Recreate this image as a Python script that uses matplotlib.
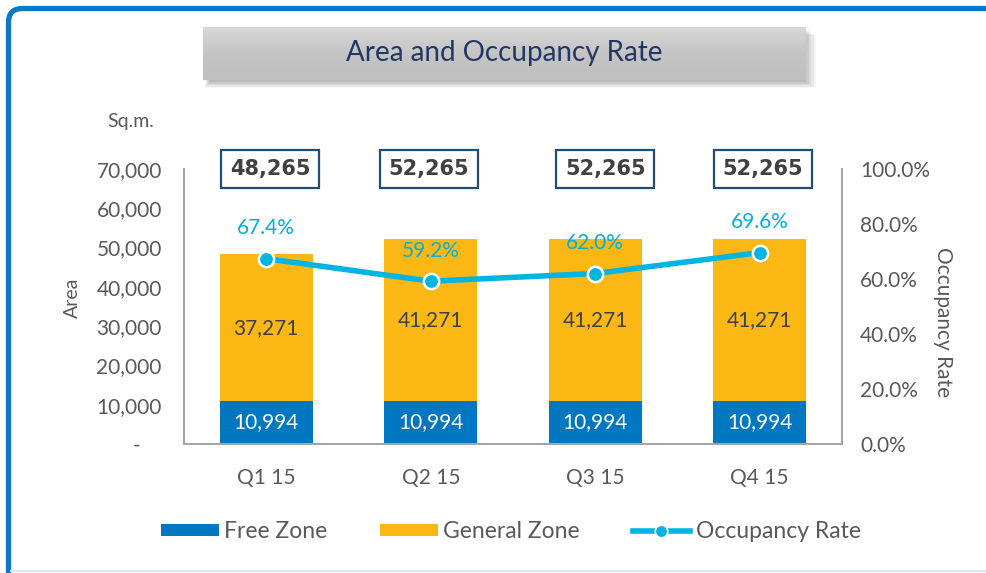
import matplotlib
matplotlib.use("Agg")
import matplotlib.pyplot as plt
import numpy as np
from matplotlib.patches import Patch, Rectangle, PathPatch
from matplotlib.lines import Line2D
from matplotlib.path import Path
from matplotlib.ticker import FuncFormatter

plt.rcParams['font.family'] = ['Lato', 'DejaVu Sans']

# Data
quarters = ["Q1 15", "Q2 15", "Q3 15", "Q4 15"]
free_zone = [10994, 10994, 10994, 10994]
general_zone = [37271, 41271, 41271, 41271]
totals = [48265, 52265, 52265, 52265]
occupancy = [67.4, 59.2, 62.0, 69.6]

FREE_C = "#0078c1"
GEN_C = "#fbb714"
LINE_C = "#00b5e2"
LABEL_C = "#00b0dc"
TEXT_C = "#595959"
NAVY = "#1f3864"

W, H = 987, 573
fig = plt.figure(figsize=(W / 100, H / 100), dpi=100)
fig.patch.set_facecolor("white")

def fx(px):
    return px / W

def fy(py):
    return 1 - py / H

# Frame around the panel: blue top/left edge with a rounded corner, pale bottom line
r = 14
verts = [(8.5, H), (8.5, 8.5 + r), (8.5, 8.5), (8.5 + r, 8.5), (W, 8.5)]
codes = [Path.MOVETO, Path.LINETO, Path.CURVE3, Path.CURVE3, Path.LINETO]
verts_f = [(fx(x), fy(y)) for x, y in verts]
fig.add_artist(PathPatch(Path(verts_f, codes), fill=False, edgecolor="#0a78c4",
                         linewidth=3.8, transform=fig.transFigure, capstyle="butt"))
fig.add_artist(Line2D([fx(11), 1], [fy(571), fy(571)], color="#d4e9f6",
                      linewidth=1.5, transform=fig.transFigure))

# Title banner with soft drop shadow
bx0, by0, bx1, by1 = 203, 27, 806, 80
for i, a in enumerate([0.04, 0.05, 0.06, 0.07, 0.08]):
    off = 8 - i * 1.4
    fig.add_artist(Rectangle((fx(bx0 + 2 + i), fy(by1 + off)),
                             fx(bx1 - bx0 + off - 2 * i), (by1 - by0) / H,
                             facecolor="#000000", alpha=a, edgecolor="none",
                             transform=fig.transFigure, zorder=-5))
tax = fig.add_axes([fx(bx0), fy(by1), fx(bx1 - bx0), (by1 - by0) / H], zorder=2)
grad = np.linspace(0, 1, 64).reshape(-1, 1)
tax.imshow(grad, aspect="auto", cmap=matplotlib.colors.LinearSegmentedColormap.from_list(
    "g", ["#d8d8d8", "#c4c4c4", "#c0c0c0"]), extent=[0, 1, 0, 1], origin="upper")
tax.set_axis_off()
tax.text(0.5, 0.5, "Area and Occupancy Rate", ha="center", va="center",
         fontsize=20, color=NAVY, transform=tax.transAxes)

# Main axes
ax = fig.add_axes([fx(184), fy(444), fx(842 - 184), (444 - 169) / H])
x = np.arange(len(quarters))
bw = 0.565
ax.bar(x, free_zone, bw, color=FREE_C, label="Free Zone", zorder=2)
ax.bar(x, general_zone, bw, bottom=free_zone, color=GEN_C, label="General Zone", zorder=2)

ax.set_xlim(-0.5, 3.5)
ax.set_ylim(0, 70000)
ax.set_yticks(np.arange(0, 70001, 10000))
ax.yaxis.set_major_formatter(FuncFormatter(lambda v, p: "-    " if v == 0 else f"{int(v):,}"))
ax.set_xticks(x)
ax.set_xticklabels(quarters)
for s in ["top", "right"]:
    ax.spines[s].set_visible(False)
for s in ["left", "bottom"]:
    ax.spines[s].set_color("#a6a6a6")
    ax.spines[s].set_linewidth(1.5)
ax.tick_params(axis="both", length=0, labelsize=15, colors=TEXT_C)
ax.tick_params(axis="y", pad=16)
ax.tick_params(axis="x", pad=17)
ax.set_ylabel("Area", fontsize=14, color=TEXT_C, va="center")
ax.yaxis.set_label_coords((72 - 184) / 658, (444 - 298) / 275)

box_dx = [4, -2, 10, 3]
for xi, fz, gz, tot, dx in zip(x, free_zone, general_zone, totals, box_dx):
    ax.text(xi, fz / 2, f"{fz:,}", ha="center", va="center", color="white", fontsize=15, zorder=4)
    ax.text(xi, fz + gz / 2, f"{gz:,}", ha="center", va="center", color="#404040", fontsize=15, zorder=4)
    ax.annotate(f"{tot:,}", xy=(xi, 70000), xytext=(dx * 0.72, 0), textcoords="offset points",
                ha="center", va="center", fontsize=15, fontweight="bold", color="#404040",
                family="DejaVu Sans",
                bbox=dict(boxstyle="square,pad=0.42", facecolor="white",
                          edgecolor="#1f4e79", linewidth=1.6), zorder=5)

# Occupancy rate on secondary axis
ax2 = ax.twinx()
ax2.set_ylim(0, 100)
ax2.set_yticks(np.arange(0, 101, 20))
ax2.yaxis.set_major_formatter(FuncFormatter(lambda v, p: f"{v:.1f}%"))
for s in ["top", "left", "bottom"]:
    ax2.spines[s].set_visible(False)
ax2.spines["right"].set_color("#a6a6a6")
ax2.spines["right"].set_linewidth(1.5)
ax2.tick_params(axis="y", length=0, labelsize=15, colors=TEXT_C, pad=13)
ax2.set_ylabel("Occupancy Rate", fontsize=15, color=TEXT_C, rotation=270, va="center")
ax2.yaxis.set_label_coords((943 - 184) / 658, (444 - 322) / 275)
ax2.plot(x, occupancy, color=LINE_C, linewidth=4, marker="o", markersize=11,
         markerfacecolor=LINE_C, markeredgecolor="white", markeredgewidth=1.8,
         label="Occupancy Rate", zorder=3)
for xi, occ in zip(x, occupancy):
    ax2.annotate(f"{occ:.1f}%", xy=(xi, occ), xytext=(0, 22), textcoords="offset points",
                 ha="center", va="center", color=LABEL_C, fontsize=15)

fig.text(fx(107), fy(121), "Sq.m.", fontsize=14, color=TEXT_C, ha="left", va="center")

handles = [Patch(facecolor=FREE_C, label="Free Zone"),
           Patch(facecolor=GEN_C, label="General Zone"),
           Line2D([0], [0], color=LINE_C, linewidth=4, marker="o", markersize=9,
                  markerfacecolor=LINE_C, markeredgecolor="white", markeredgewidth=1.2,
                  label="Occupancy Rate")]
fig.legend(handles=handles, loc="center", bbox_to_anchor=(fx(511), fy(532)), ncol=3,
           frameon=False, fontsize=16.5, labelcolor=TEXT_C, handlelength=2.5,
           handleheight=0.45, handletextpad=0.25, columnspacing=2.3)

fig.savefig("out.png", dpi=100)
